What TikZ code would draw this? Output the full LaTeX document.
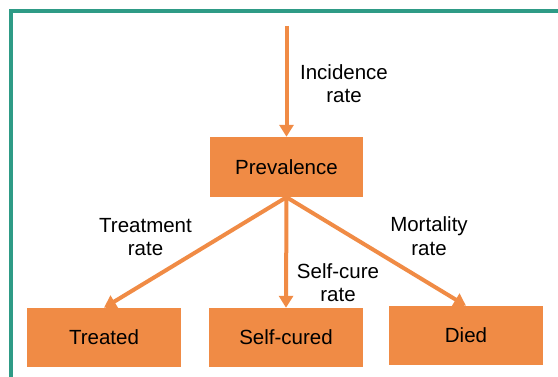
\documentclass[tikz,border=0pt]{standalone}
\usepackage{fontspec}
\setmainfont{Liberation Sans}
\usetikzlibrary{arrows.meta}
\definecolor{boxorange}{HTML}{F08B45}
\definecolor{frameteal}{HTML}{2E9B86}
\begin{document}
\begin{tikzpicture}[x=1pt,y=-1pt,
  box/.style={fill=boxorange, draw=none, minimum width=154pt, minimum height=59pt,
    inner sep=0pt, font=\fontsize{20.5}{24}\selectfont},
  flow/.style={draw=boxorange, line width=4pt, -{Triangle[width=14pt,length=12pt]}},
  lbl/.style={align=center, inner sep=0pt, font=\fontsize{20.5}{23.5}\selectfont}]
\useasboundingbox (0,0) rectangle (558,377);
\draw[frameteal, line width=4pt] (10.5,380) -- (10.5,11.5) -- (560,11.5);
\node[box, minimum width=153pt, minimum height=60pt] (prev) at (286.5,167) {Prevalence};
\node[box] (treated) at (104,337.5) {Treated};
\node[box] (self) at (286,337.5) {Self-cured};
\node[box] (died) at (466,335.5) {Died};
\coordinate (src) at (286.5,26);
\draw[flow] (src) -- (prev.north);
\draw[flow] (prev.south) -- (treated.north);
\draw[flow] (prev.south) -- (self.north);
\draw[flow] (prev.south) -- (died.north);
\node[lbl] (lincid) at (344,83.5) {Incidence\\rate};
\node[lbl] (ltreat) at (145.5,237) {Treatment\\rate};
\node[lbl] (lself) at (338,282.5) {Self-cure\\rate};
\node[lbl] (lmort) at (429,236) {Mortality\\rate};
\end{tikzpicture}
\end{document}
